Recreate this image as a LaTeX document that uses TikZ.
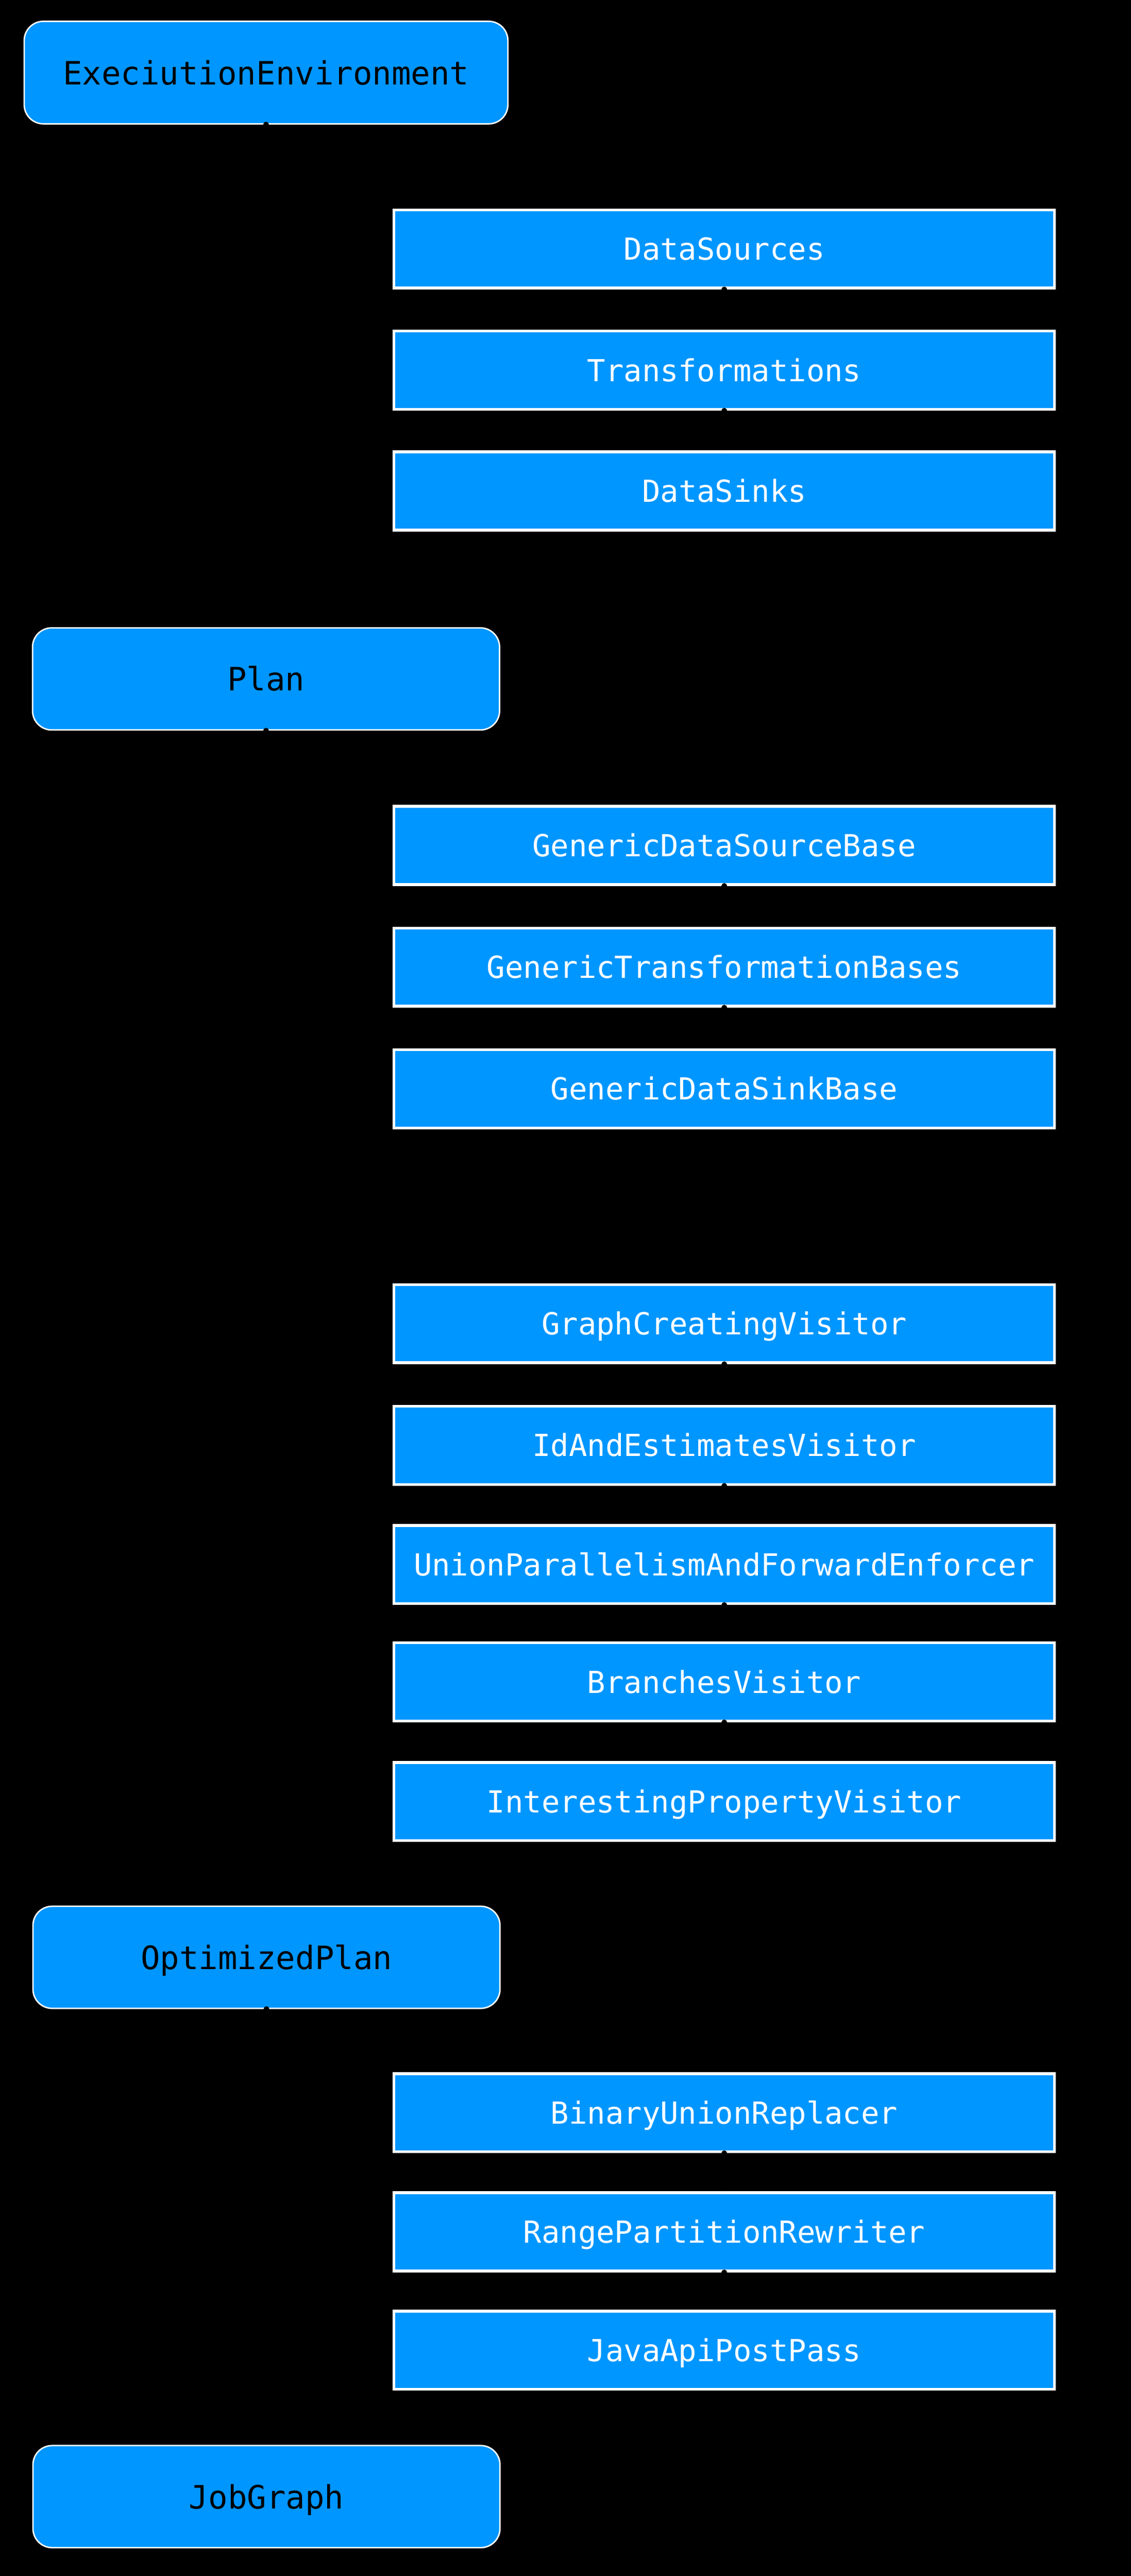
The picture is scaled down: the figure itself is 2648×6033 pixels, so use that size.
\documentclass[tikz,border=0pt]{standalone}
\usepackage{fontspec}
\setmonofont{DejaVu Sans Mono}
\usetikzlibrary{arrows.meta}
\definecolor{boxblue}{RGB}{0,150,255}

\begin{document}
\begin{tikzpicture}[x=0.01cm,y=-0.01cm,
  stage/.style={draw=white,fill=boxblue,line width=0.95pt,rounded corners=0.45cm,
    minimum width=10.93cm,minimum height=2.39cm,inner sep=0pt,text=black,
    text height=0.56cm,text depth=0cm,font=\ttfamily\fontsize{21.4}{26}\selectfont},
  pass/.style={draw=white,fill=boxblue,line width=1.9pt,
    minimum width=15.46cm,minimum height=1.83cm,inner sep=0pt,text=white,
    text height=0.52cm,text depth=0cm,font=\ttfamily\fontsize{20.2}{24}\selectfont},
  flow/.style={black,line width=1.1pt,{Circle[length=0.13cm]}-{Stealth[length=0.2cm]},
    shorten <=-0.065cm}
]

\fill[black] (0,0) rectangle (2648,6033);
\useasboundingbox (0,0) rectangle (2648,6033);

\node[stage,minimum width=11.32cm,minimum height=2.40cm] (env) at (623,170) {ExeciutionEnvironment};
\node[stage] (plan) at (623,1590) {Plan};
\node[stage] (oplan) at (624,4584) {OptimizedPlan};
\node[stage] (job) at (624,5847) {JobGraph};

\node[pass] (src) at (1696,583) {DataSources};
\node[pass] (trans) at (1696,867) {Transformations};
\node[pass] (sink) at (1696,1150) {DataSinks};

\node[pass] (gsrc) at (1696,1980) {GenericDataSourceBase};
\node[pass] (gtrans) at (1696,2265) {GenericTransformationBases};
\node[pass] (gsink) at (1696,2550) {GenericDataSinkBase};

\node[pass] (graph) at (1696,3100) {GraphCreatingVisitor};
\node[pass] (idest) at (1696,3385) {IdAndEstimatesVisitor};
\node[pass] (union) at (1696,3664) {UnionParallelismAndForwardEnforcer};
\node[pass] (branch) at (1696,3939) {BranchesVisitor};
\node[pass] (interest) at (1696,4219) {InterestingPropertyVisitor};

\node[pass] (binary) at (1696,4948) {BinaryUnionReplacer};
\node[pass] (range) at (1696,5227) {RangePartitionRewriter};
\node[pass] (post) at (1696,5504) {JavaApiPostPass};

\draw[flow] (env.south) -- (plan.north);
\draw[flow] (plan.south) -- (oplan.north);
\draw[flow] (oplan.south) -- (job.north);

\draw[flow] (src.south) -- (trans.north);
\draw[flow] (trans.south) -- (sink.north);
\draw[flow] (gsrc.south) -- (gtrans.north);
\draw[flow] (gtrans.south) -- (gsink.north);
\draw[flow] (graph.south) -- (idest.north);
\draw[flow] (idest.south) -- (union.north);
\draw[flow] (union.south) -- (branch.north);
\draw[flow] (branch.south) -- (interest.north);
\draw[flow] (binary.south) -- (range.north);
\draw[flow] (range.south) -- (post.north);

\end{tikzpicture}
\end{document}
